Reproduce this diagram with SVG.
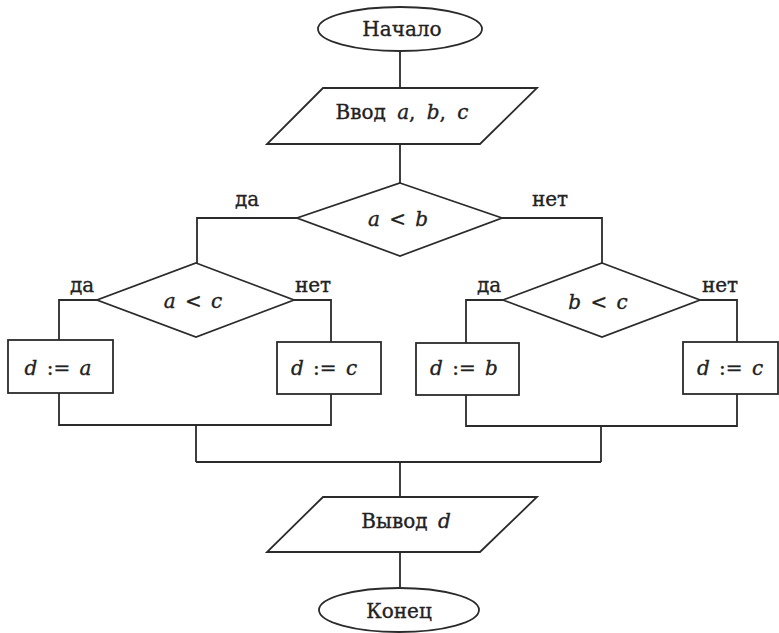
<svg xmlns="http://www.w3.org/2000/svg" width="779" height="633" viewBox="0 0 779 633">
<style>
.s{fill:#fff;stroke:#2b2b2b;stroke-width:1.8}
.c{fill:none;stroke:#2b2b2b;stroke-width:1.8}
.t{font-family:"DejaVu Serif","Liberation Serif",serif;font-size:20px;fill:#222;stroke:#222;stroke-width:0.35;text-anchor:middle}
.w{word-spacing:3px}
.i{font-style:italic}
</style>
<rect width="779" height="633" fill="#fff"/>
<g id="connectors">
<path class="c" d="M400 51V88M400 144V183M297 218H197V263M502 218H602V263M97 300H59V340M294 300H331V342M503 300H466V343M700 300H737V342M59 393V425H331V394M196 425V462M466 395V426H737V394M601 426V462M196 462H601M400 462V497M400 552V588"/>
</g>
<g id="start">
<ellipse class="s" cx="400" cy="29" rx="82" ry="22"/>
<text class="t" x="402" y="36">Начало</text>
</g>
<g id="input">
<polygon class="s" points="323,88 537,88 480,144 267,144"/>
<text class="t" x="402" y="119" style="word-spacing:5px">Ввод <tspan class="i">a</tspan>, <tspan class="i">b</tspan>, <tspan class="i">c</tspan></text>
</g>
<g id="cond-ab">
<polygon class="s" points="400,183 502,218 400,256 297,218"/>
<text class="t w" x="398" y="226"><tspan class="i">a</tspan> &lt; <tspan class="i">b</tspan></text>
<text class="t" x="247" y="206">да</text>
<text class="t" x="550" y="206">нет</text>
</g>
<g id="cond-ac">
<polygon class="s" points="196,263 294,300 196,337 97,300"/>
<text class="t w" x="193" y="308"><tspan class="i">a</tspan> &lt; <tspan class="i">c</tspan></text>
<text class="t" x="82" y="292">да</text>
<text class="t" x="313" y="292">нет</text>
</g>
<g id="cond-bc">
<polygon class="s" points="602,263 700,300 602,337 503,300"/>
<text class="t w" x="598" y="309"><tspan class="i">b</tspan> &lt; <tspan class="i">c</tspan></text>
<text class="t" x="489" y="292">да</text>
<text class="t" x="720" y="292">нет</text>
</g>
<g id="assign-a">
<rect class="s" x="8" y="340" width="105" height="53"/>
<text class="t w" x="58" y="375"><tspan class="i">d</tspan> := <tspan class="i">a</tspan></text>
</g>
<g id="assign-c1">
<rect class="s" x="277" y="342" width="104" height="52"/>
<text class="t w" x="324" y="375"><tspan class="i">d</tspan> := <tspan class="i">c</tspan></text>
</g>
<g id="assign-b">
<rect class="s" x="416" y="343" width="103" height="52"/>
<text class="t w" x="464" y="375"><tspan class="i">d</tspan> := <tspan class="i">b</tspan></text>
</g>
<g id="assign-c2">
<rect class="s" x="683" y="342" width="95" height="52"/>
<text class="t w" x="730" y="375"><tspan class="i">d</tspan> := <tspan class="i">c</tspan></text>
</g>
<g id="output">
<polygon class="s" points="323,497 537,497 480,552 267,552"/>
<text class="t" x="406" y="528" style="word-spacing:4px">Вывод <tspan class="i">d</tspan></text>
</g>
<g id="end">
<ellipse class="s" cx="399" cy="610" rx="80" ry="22"/>
<text class="t" x="399" y="618">Конец</text>
</g>
</svg>
